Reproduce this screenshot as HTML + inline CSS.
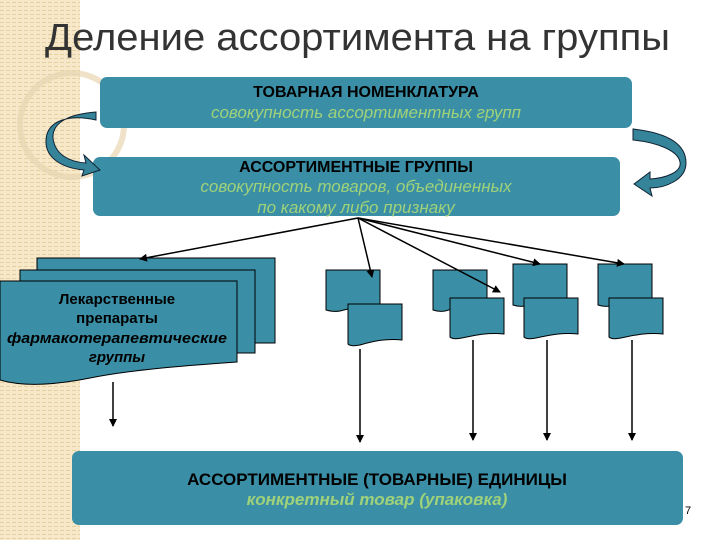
<!DOCTYPE html>
<html><head><meta charset="utf-8"><style>
body{margin:0;width:720px;height:540px;overflow:hidden;background:#fff}
svg{display:block}
text{font-family:"Liberation Sans",sans-serif}
</style></head><body>
<svg width="720" height="540" viewBox="0 0 720 540">
<defs>
<pattern id="ln" width="6" height="4" patternUnits="userSpaceOnUse">
<rect width="6" height="4" fill="#f6e8c8"/><rect y="2" width="4" height="1" fill="#e6cf9e"/>
</pattern>
<marker id="a" markerWidth="8" markerHeight="8" refX="7" refY="4" orient="auto" markerUnits="userSpaceOnUse"><path d="M0,0 L8,4 L0,8 z" fill="#000"/></marker>
</defs>
<rect x="0" y="0" width="80" height="540" fill="url(#ln)"/>
<circle cx="72" cy="125" r="52" fill="none" stroke="#e8d6b0" stroke-width="6" opacity="0.7"/>
<text x="45" y="50" font-size="38" fill="#333" textLength="625" lengthAdjust="spacingAndGlyphs">Деление ассортимента на группы</text>

<rect x="100" y="77" width="532" height="51" rx="7" fill="#3a8ea5"/>
<text x="366" y="97" font-size="16" font-weight="bold" text-anchor="middle" fill="#000">ТОВАРНАЯ НОМЕНКЛАТУРА</text>
<text x="366" y="118" font-size="17" font-style="italic" text-anchor="middle" fill="#9fd27a">совокупность ассортиментных групп</text>

<rect x="93" y="157" width="527" height="59" rx="7" fill="#3a8ea5"/>
<text x="356" y="172" font-size="16" font-weight="bold" text-anchor="middle" fill="#000">АССОРТИМЕНТНЫЕ ГРУППЫ</text>
<text x="356" y="192" font-size="17" font-style="italic" text-anchor="middle" fill="#9fd27a">совокупность товаров, объединенных</text>
<text x="356" y="213" font-size="17" font-style="italic" text-anchor="middle" fill="#9fd27a">по какому либо признаку</text>

<path d="M96,112 C70,114 52,122 53,138 C55,155 70,162 86,163 L84,155 L100,170 L82,176 L84,170 C62,168 45,158 46,140 C47,120 70,114 96,120 z" fill="#35849a" stroke="#123" stroke-width="1"/>
<path d="M633,129 C660,132 686,140 686,163 C686,180 665,188 650,188 L652,196 L634,184 L650,172 L650,179 C666,178 682,172 680,162 C678,150 655,142 633,140 z" fill="#35849a" stroke="#123" stroke-width="1"/>

<g fill="#3a8ea5" stroke="#000" stroke-width="1">
<rect x="37" y="258" width="238" height="85"/>
<rect x="20" y="270" width="235" height="83"/>
<path d="M0,281 H237 V362 C180,366 130,370 90,378 C50,386 20,386 0,380 z"/>
</g>
<g font-size="15" font-weight="bold" text-anchor="middle" fill="#000">
<text x="117" y="304">Лекарственные</text>
<text x="117" y="323">препараты</text>
<text x="117" y="343" font-style="italic" textLength="220" lengthAdjust="spacingAndGlyphs">фармакотерапевтические</text>
<text x="117" y="362" font-style="italic">группы</text>
</g>

<g fill="#3a8ea5" stroke="#000" stroke-width="1">
<path d="M326,270 H380 V310 C365,306 350,308 340,311 C334,312 330,311 326,310 z"/>
<path d="M348,304 H402 V340 C385,338 370,342 360,345 C355,346 350,346 348,344 z"/>
<path d="M433,270 H487 V310 C470,306 455,308 445,311 C440,312 436,311 433,310 z"/>
<path d="M450,298 H504 V334 C487,332 472,336 462,338 C457,339 452,339 450,337 z"/>
<path d="M513,264 H567 V305 C550,301 535,303 525,306 C520,307 516,306 513,305 z"/>
<path d="M524,298 H578 V334 C561,332 546,336 536,338 C531,339 526,339 524,337 z"/>
<path d="M598,264 H652 V305 C635,301 620,303 610,306 C605,307 601,306 598,305 z"/>
<path d="M609,298 H663 V334 C646,332 631,336 621,338 C616,339 611,339 609,337 z"/>
</g>

<g stroke="#000" stroke-width="1.5" fill="none" marker-end="url(#a)">
<line x1="358" y1="218" x2="140" y2="259"/>
<line x1="358" y1="218" x2="372" y2="277"/>
<line x1="358" y1="218" x2="500" y2="292"/>
<line x1="358" y1="218" x2="540" y2="264"/>
<line x1="358" y1="218" x2="624" y2="264"/>
<line x1="113" y1="382" x2="113" y2="426"/>
<line x1="360" y1="349" x2="360" y2="442"/>
<line x1="473" y1="340" x2="473" y2="440"/>
<line x1="547" y1="340" x2="547" y2="440"/>
<line x1="632" y1="340" x2="632" y2="440"/>
</g>

<rect x="72" y="451" width="611" height="74" rx="7" fill="#3a8ea5"/>
<text x="377" y="485" font-size="17" font-weight="bold" text-anchor="middle" fill="#000">АССОРТИМЕНТНЫЕ (ТОВАРНЫЕ) ЕДИНИЦЫ</text>
<text x="377" y="505" font-size="17" font-weight="bold" font-style="italic" text-anchor="middle" fill="#9fd27a">конкретный товар (упаковка)</text>
<text x="685" y="514" font-size="11" fill="#000">7</text>
</svg>
</body></html>
